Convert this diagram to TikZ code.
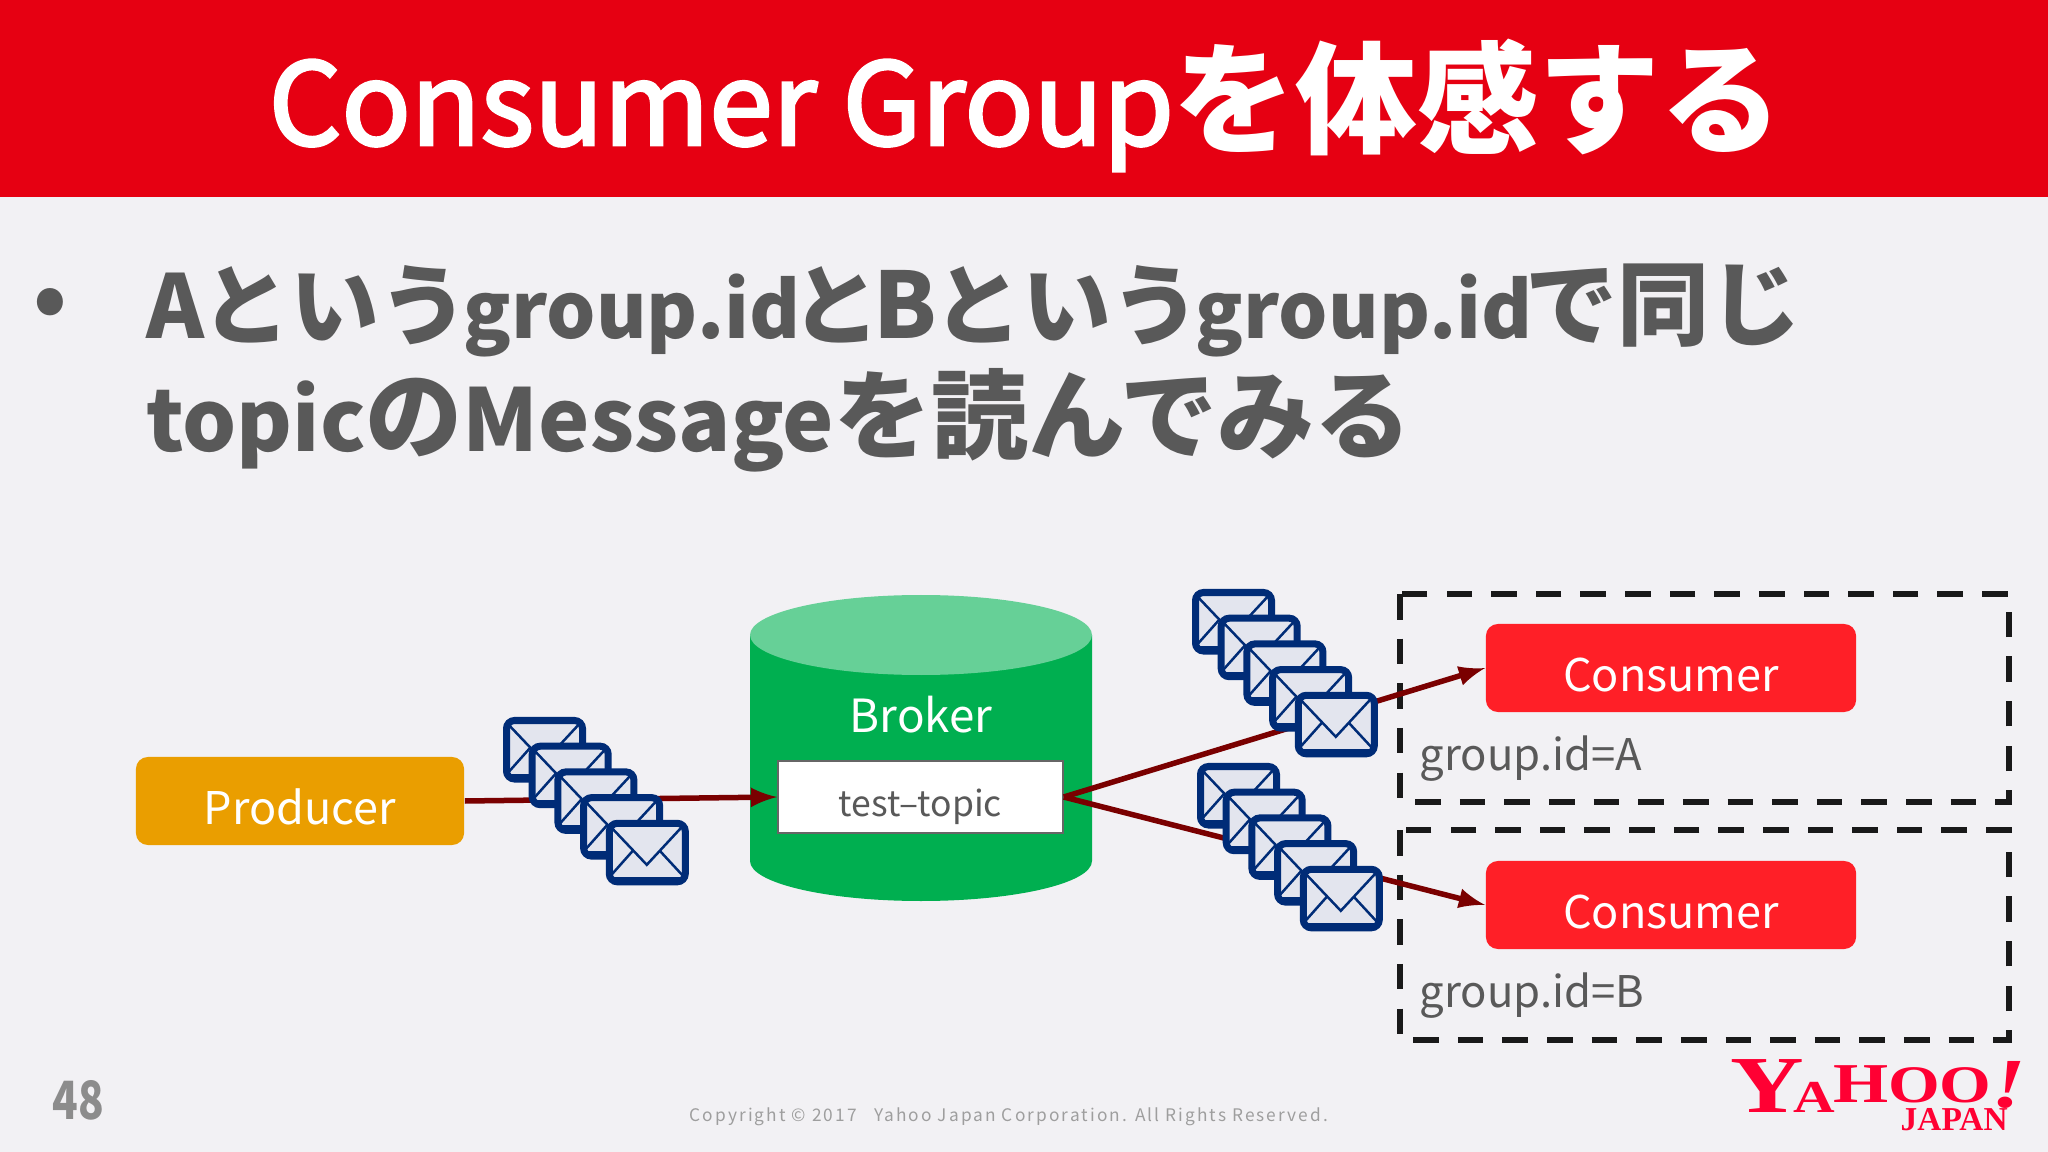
\documentclass[tikz,border=0pt]{standalone}
\usepackage{fontspec}
\setmainfont{Noto Sans CJK JP}
\newfontfamily\copyfont[LetterSpace=12]{Noto Sans CJK JP}
\newfontfamily\logofont{Liberation Serif}
\newfontfamily\titlelatin[FakeBold=2.5]{Noto Sans CJK JP}
\newcommand{\runsize}[2]{{\fontsize{#1}{#1}\selectfont #2}}
\definecolor{bandred}{HTML}{E60012}
\definecolor{pagegray}{HTML}{F2F1F4}
\definecolor{textgray}{HTML}{595959}
\definecolor{orangebox}{HTML}{EA9E00}
\definecolor{brokergreen}{HTML}{00AF50}
\definecolor{brokertop}{HTML}{66D097}
\definecolor{consumerred}{HTML}{FF1F27}
\definecolor{arrowred}{HTML}{7A0000}
\definecolor{mailblue}{HTML}{002C77}
\definecolor{mailfill}{HTML}{E3E5EE}
\definecolor{logored}{HTML}{FF0033}
\tikzset{
  bigtext/.style={font=\bfseries, text=textgray, anchor=base west, inner sep=0pt},
  boxlabel/.style={font=\fontsize{12.8}{12.8}\selectfont, text=white, minimum height=0.88cm, text height=0.56cm, text depth=0.1cm, rounded corners=0.12cm, inner sep=0pt},
  grouplabel/.style={font=\fontsize{12.4}{12.4}\selectfont, text=textgray, anchor=west, inner sep=0pt},
  groupbox/.style={draw=black!90, line width=0.058cm, dash pattern=on 0.256cm off 0.19cm},
  flow/.style={draw=arrowred, line width=0.055cm, -latex},
  mailicon/.pic={
    \draw[mailblue, fill=mailfill, line width=0.07cm, rounded corners=0.08cm] (3.5,3.5) rectangle (79.5,62);
    \draw[mailblue, line width=0.025cm] (3,5) -- (41,45) -- (79,4);
    \draw[mailblue, line width=0.025cm] (3,58) -- (27,31);
    \draw[mailblue, line width=0.025cm] (79,58) -- (54,31);
    \draw[mailblue, line width=0.02cm] (5,58) -- (78,58);
  }
}
\begin{document}
\begin{tikzpicture}[x=0.01cm,y=-0.01cm]
  \useasboundingbox (0,0) rectangle (2048,1152);
  \fill[pagegray] (0,0) rectangle (2048,1152);
  \fill[bandred] (0,0) rectangle (2048,197);
  \node[text=white, inner sep=0pt, anchor=base west] (title) at (268,145) {{\titlelatin\fontsize{32.5}{32.5}\selectfont Consumer Group}{\bfseries\fontsize{34.6}{34.6}\selectfont を体感する}};
  % bullet text
  \node[font=\fontsize{24}{24}\selectfont\bfseries, text=textgray, inner sep=0pt] (bullet) at (50,308) {•};
  \node[bigtext] (lineone) at (146,339) {\runsize{25}{A}\kern-0.8pt\runsize{25.3}{という}\kern-1.5pt\runsize{22.1}{group.id}\kern-2.6pt\runsize{25.3}{と}\kern-2pt\runsize{26}{B}\kern-0.8pt\runsize{25.3}{という}\kern-1.5pt\runsize{22.1}{group.id}\kern-2pt\runsize{26.2}{で同じ}};
  \node[bigtext] (linetwo) at (146,452) {\runsize{24.2}{topic}\runsize{27.6}{の}\runsize{24.6}{Message}\runsize{27.6}{を読んでみる}};
  % broker
  \fill[brokergreen] (750,635) -- (750,861) arc[start angle=180, end angle=0, x radius=171, y radius=40] -- (1092,635) -- cycle;
  \fill[brokertop] (921,635) ellipse[x radius=171, y radius=40];
  \node[font=\fontsize{13}{13}\selectfont, text=white, inner sep=0pt] (broker) at (921,715) {Broker};
  \node[draw=black!60, fill=white, font=\fontsize{10.1}{10.1}\selectfont, text=textgray, minimum width=2.85cm, minimum height=0.72cm, text height=0.46cm, text depth=0.08cm, inner sep=0pt] (topic) at (920.5,797) {test--topic};
  % boxes
  \node[boxlabel, fill=orangebox, minimum width=3.28cm] (producer) at (300,801) {Producer};
  \node[boxlabel, fill=consumerred, minimum width=3.7cm] (consumerA) at (1671,668) {Consumer};
  \node[boxlabel, fill=consumerred, minimum width=3.7cm] (consumerB) at (1671,905) {Consumer};
  \draw[groupbox] (1400,594) rectangle (2009,802);
  \draw[groupbox] (1400,830) rectangle (2009,1040);
  \node[grouplabel] (groupA) at (1419,759) {group.id=A};
  \node[grouplabel] (groupB) at (1419,996) {group.id=B};
  % arrows
  \draw[flow] (producer.east) -- (topic.west);
  \draw[flow] (topic.east) -- (consumerA.west);
  \draw[flow] (topic.east) -- (consumerB.west);
  % mails
  \foreach \i in {0,...,4} {
    \pic at (503+25.7*\i,717+25.7*\i) {mailicon};
    \pic at (1192+25.7*\i,589+25.7*\i) {mailicon};
    \pic at (1197+25.7*\i,763+25.7*\i) {mailicon};
  }
  % footer
  \node[text=black!45, inner sep=0pt] (pagenum) at (78,1100) {\scalebox{0.8}[1]{\fontsize{15}{15}\selectfont\bfseries 48}};
  \node[font=\copyfont\fontsize{4.92}{4.92}\selectfont, text=black!38, inner sep=0pt] (copyright) at (1009,1117) {Copyright © 2017\ \ \ Yahoo Japan Corporation. All Rights Reserved.};
  \node[anchor=base west, inner sep=0pt, text=logored, font=\logofont\bfseries] (yahoo) at (1730,1112) {\scalebox{1.26}[1]{\fontsize{23}{23}\selectfont Y\kern-2.4pt\fontsize{13}{13}\selectfont A\kern-0.5pt\raisebox{2.8pt}{\fontsize{16}{16}\selectfont H\fontsize{15}{15}\selectfont OO}\raisebox{1.4pt}{\fontsize{20}{20}\selectfont\itshape !}}};
  \node[anchor=base west, inner sep=0pt, text=logored, font=\logofont\bfseries\fontsize{9.5}{9.5}\selectfont] (japan) at (1900,1130) {JAPAN};
\end{tikzpicture}
\end{document}
